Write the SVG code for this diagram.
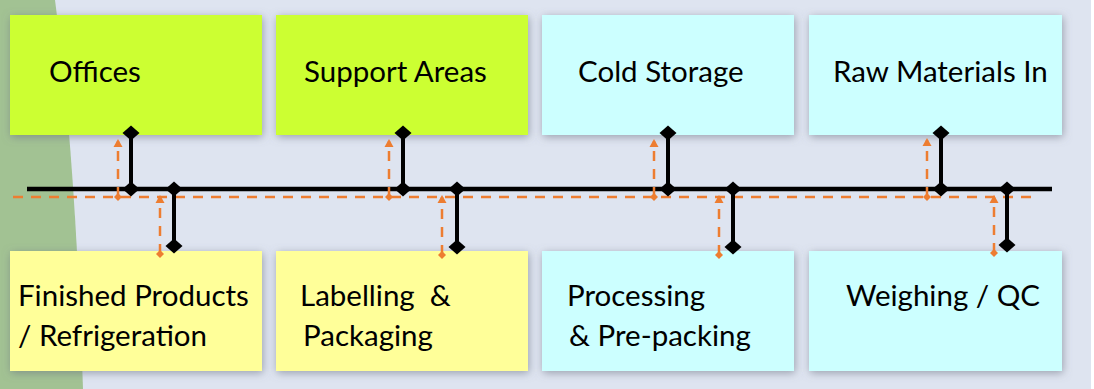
<svg xmlns="http://www.w3.org/2000/svg" width="1094" height="389" viewBox="0 0 1094 389">
  <style>
    .box { filter: url(#shadow); }
    .green { fill: #ccff33; }
    .yellow { fill: #ffff99; }
    .cyan { fill: #ccffff; }
    .lbl { font-family: Lato, "Open Sans", "Liberation Sans", sans-serif; font-size: 29.5px; fill: #000000; }
    .main { stroke: #000000; stroke-width: 4.5; fill: none; }
    .link { stroke: #000000; stroke-width: 4; fill: none; marker-start: url(#dia); marker-end: url(#dia); }
    .flowh { stroke: #ed7d31; stroke-width: 2.5; fill: none; stroke-dasharray: 10 8; }
    .flow { stroke: #ed7d31; stroke-width: 2.5; fill: none; stroke-dasharray: 10 8; marker-start: url(#odia); marker-end: url(#oarr); }
  </style>
  <defs>
    <filter id="shadow" x="-10%" y="-15%" width="120%" height="135%">
      <feDropShadow dx="1" dy="2" stdDeviation="4" flood-color="#6b7080" flood-opacity="0.6"/>
    </filter>
    <marker id="dia" viewBox="-10 -10 20 20" refX="0" refY="0" markerWidth="20" markerHeight="20" markerUnits="userSpaceOnUse" orient="auto">
      <path d="M-7.5,0 L0,-8.5 L7.5,0 L0,8.5 Z" fill="#000000"/>
    </marker>
    <marker id="odia" viewBox="-5 -5 10 10" refX="0" refY="0" markerWidth="10" markerHeight="10" markerUnits="userSpaceOnUse" orient="auto">
      <path d="M-4,0 L0,-4 L4,0 L0,4 Z" fill="#ed7d31"/>
    </marker>
    <marker id="oarr" viewBox="-6 -6 12 12" refX="2" refY="0" markerWidth="12" markerHeight="12" markerUnits="userSpaceOnUse" orient="auto">
      <path d="M-4,-4.5 L4,0 L-4,4.5 Z" fill="#ed7d31"/>
    </marker>
  </defs>

  <!-- background -->
  <rect x="0" y="0" width="1094" height="389" fill="#ffffff"/>
  <rect x="0" y="0" width="1091" height="389" fill="#dee4f0"/>
  <path d="M0,0 L55,0 Q75,150 83,389 L0,389 Z" fill="#a2c293"/>

  <!-- top row nodes -->
  <g id="offices">
    <rect class="box green" x="10" y="15" width="252" height="120"/>
    <text class="lbl" x="49" y="82">Offices</text>
  </g>
  <g id="support-areas">
    <rect class="box green" x="276" y="15" width="252" height="120"/>
    <text class="lbl" x="304" y="82">Support Areas</text>
  </g>
  <g id="cold-storage">
    <rect class="box cyan" x="542" y="15" width="252" height="120"/>
    <text class="lbl" x="578" y="82">Cold Storage</text>
  </g>
  <g id="raw-materials-in">
    <rect class="box cyan" x="809" y="15" width="253" height="120"/>
    <text class="lbl" x="833" y="82">Raw Materials In</text>
  </g>

  <!-- bottom row nodes -->
  <g id="finished-products">
    <rect class="box yellow" x="10" y="251" width="252" height="120"/>
    <text class="lbl" x="18" y="306">Finished Products</text>
    <text class="lbl" x="18" y="346">/ Refrigeration</text>
  </g>
  <g id="labelling-packaging">
    <rect class="box yellow" x="276" y="251" width="252" height="120"/>
    <text class="lbl" x="300" y="306" xml:space="preserve">Labelling  &amp;</text>
    <text class="lbl" x="303" y="346">Packaging</text>
  </g>
  <g id="processing">
    <rect class="box cyan" x="542" y="251" width="252" height="120"/>
    <text class="lbl" x="567" y="306">Processing</text>
    <text class="lbl" x="569" y="346">&amp; Pre-packing</text>
  </g>
  <g id="weighing-qc">
    <rect class="box cyan" x="809" y="251" width="253" height="120"/>
    <text class="lbl" x="846" y="306">Weighing / QC</text>
  </g>

  <!-- connectors -->
  <g id="connectors">
    <line class="main" x1="27" y1="189" x2="1052" y2="189"/>
    <line class="flowh" x1="13" y1="197" x2="1032" y2="197"/>

    <line class="link" x1="131" y1="133" x2="131" y2="189"/>
    <line class="link" x1="174" y1="189" x2="174" y2="246"/>
    <line class="flow" x1="118" y1="197" x2="118" y2="141"/>
    <line class="flow" x1="160" y1="254" x2="160" y2="197"/>

    <line class="link" x1="403" y1="133" x2="403" y2="189"/>
    <line class="link" x1="457" y1="189" x2="457" y2="247"/>
    <line class="flow" x1="389" y1="197" x2="389" y2="141"/>
    <line class="flow" x1="442" y1="255" x2="442" y2="197"/>

    <line class="link" x1="668" y1="133" x2="668" y2="189"/>
    <line class="link" x1="733" y1="189" x2="733" y2="247"/>
    <line class="flow" x1="654" y1="197" x2="654" y2="141"/>
    <line class="flow" x1="719" y1="255" x2="719" y2="197"/>

    <line class="link" x1="941" y1="133" x2="941" y2="189"/>
    <line class="link" x1="1007" y1="189" x2="1007" y2="245"/>
    <line class="flow" x1="927" y1="197" x2="927" y2="140"/>
    <line class="flow" x1="994" y1="253" x2="994" y2="197"/>
  </g>
</svg>
